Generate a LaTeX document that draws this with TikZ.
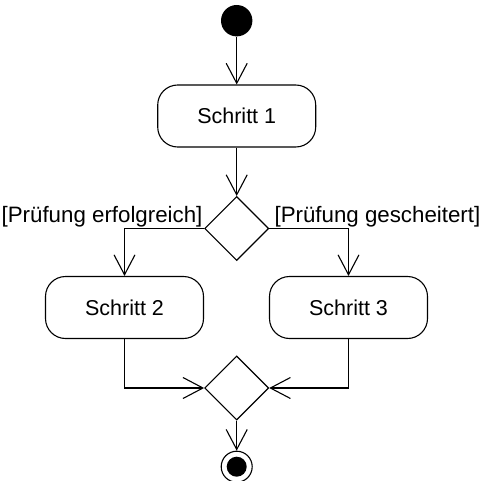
\documentclass[tikz,border=0pt]{standalone}
\usepackage{fontspec}
\setmainfont{Liberation Sans}
\usetikzlibrary{shapes.geometric,arrows.meta}
\begin{document}
\begin{tikzpicture}[x=1pt,y=-1pt,
  line width=1.1pt,
  act/.style={draw,rounded corners=20pt,minimum width=158pt,minimum height=62pt,inner sep=0pt,font=\fontsize{21.5}{26}\selectfont},
  dec/.style={draw,diamond,minimum width=64pt,minimum height=64pt,inner sep=0pt,aspect=1},
  lbl/.style={inner sep=0pt,font=\fontsize{22.3}{26}\selectfont},
  flow/.style={-{Straight Barb[length=20pt,width=21pt,line width=1.1pt]}}]
\useasboundingbox (0,0) rectangle (480,481);
\node[circle,fill=black,minimum size=31.4pt,inner sep=0pt] (start) at (236.7,20.7) {};
\node[act] (s1) at (236.7,116) {Schritt 1};
\node[dec] (d1) at (236.7,228.5) {};
\node[act] (s2) at (124.5,307.5) {Schritt 2};
\node[act] (s3) at (348.5,307.5) {Schritt 3};
\node[dec] (d2) at (236.7,388) {};
\node[circle,draw,minimum size=31pt,inner sep=0pt] (end) at (236.7,466.7) {};
\node[circle,fill=black,minimum size=20pt,inner sep=0pt] (endDot) at (end.center) {};
\node[lbl,anchor=base east] (l1) at (203,222.7) {[Prüfung erfolgreich]};
\node[lbl,anchor=base west] (l2) at (274,222.7) {[Prüfung gescheitert]};
\draw[flow] (start) -- (s1);
\draw[flow] (s1) -- (d1);
\draw[flow] (d1.west) -| (s2.north);
\draw[flow] (d1.east) -| (s3.north);
\draw[flow] (s2.south) |- (d2.west);
\draw[flow] (s3.south) |- (d2.east);
\draw[flow] (d2) -- (end);
\end{tikzpicture}
\end{document}
